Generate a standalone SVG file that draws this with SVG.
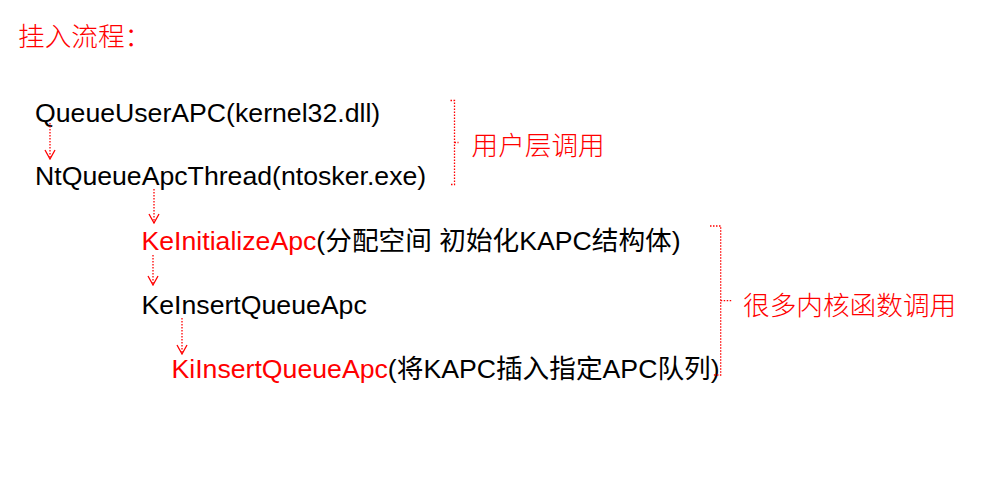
<svg xmlns="http://www.w3.org/2000/svg" width="984" height="478" viewBox="0 0 984 478">
<style>
.t{font-family:"Liberation Sans",Arial,"Noto Sans CJK SC",sans-serif;font-size:26.67px;fill:#000}
.r{fill:#FF0000}
.cn{font-family:"Noto Sans CJK SC",sans-serif;font-size:26.67px;font-weight:300;fill:#FF0000}
.dot{fill:none;stroke:#FF0000;stroke-width:1.3;stroke-dasharray:1.5 1.5}
</style>
<defs>
<marker id="ah" markerUnits="userSpaceOnUse" viewBox="-11 -6 12 12" refX="0" refY="0" markerWidth="12" markerHeight="12" orient="auto">
<path d="M-9,-5 L0,0 L-9,5" fill="none" stroke="#FF0000" stroke-width="1.3"/>
</marker>
</defs>
<rect width="984" height="478" fill="#fff"/>
<g id="title"><text class="cn" x="18" y="46">挂入流程：</text></g>
<g id="n1"><text class="t" x="35" y="122">QueueUserAPC(kernel32.dll)</text></g>
<g id="n2"><text class="t" x="35" y="185">NtQueueApcThread(ntosker.exe)</text></g>
<g id="n3"><text class="t" x="141.5" y="250"><tspan class="r">KeInitializeApc</tspan>(分配空间 初始化KAPC结构体)</text></g>
<g id="n4"><text class="t" x="141.5" y="314">KeInsertQueueApc</text></g>
<g id="n5"><text class="t" x="171.5" y="378"><tspan class="r">KiInsertQueueApc</tspan>(将KAPC插入指定APC队列)</text></g>
<g id="label1"><text class="cn" x="471.5" y="155">用户层调用</text></g>
<g id="label2"><text class="cn" x="743" y="315">很多内核函数调用</text></g>
<g id="connectors">
<line class="dot" x1="50" y1="123" x2="50" y2="159" marker-end="url(#ah)"/>
<line class="dot" x1="154" y1="189" x2="154" y2="223" marker-end="url(#ah)"/>
<line class="dot" x1="153" y1="255" x2="153" y2="285" marker-end="url(#ah)"/>
<line class="dot" x1="182" y1="318" x2="182" y2="354" marker-end="url(#ah)"/>
<path class="dot" d="M450.5,100.5 H454.5 V184.5 H450.5 M454.5,142.5 H458.5"/>
<path class="dot" d="M710,226 H720.7 V375 H713 M720.7,300.7 H731.7"/>
</g>
</svg>
